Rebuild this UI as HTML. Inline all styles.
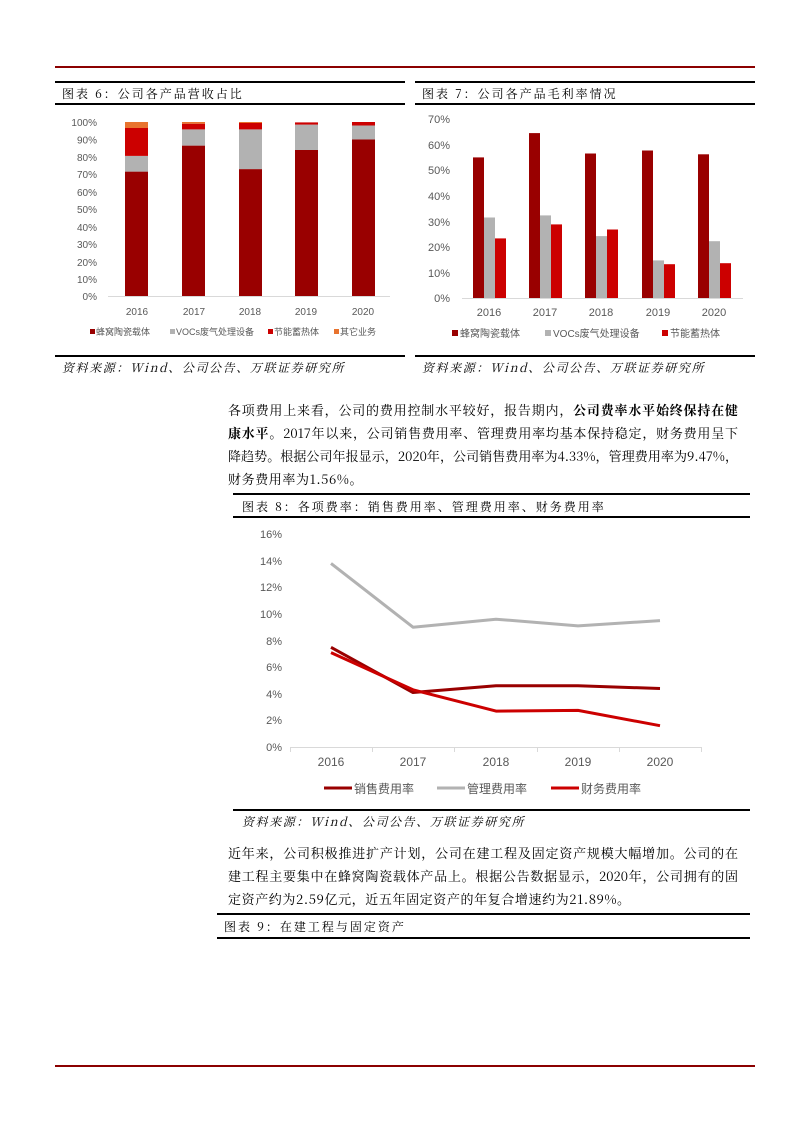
<!DOCTYPE html>
<html><head><meta charset="utf-8"><style>
body{margin:0;background:#fff;width:793px;height:1122px;position:relative;font-family:"Liberation Sans","Noto Sans CJK SC",sans-serif;color:#000;overflow:hidden}
.a{position:absolute}
.hl{position:absolute;height:2px;background:#000}
.t{position:absolute;font-size:12px;letter-spacing:2px;font-family:"Noto Serif CJK SC","Liberation Serif",serif;white-space:nowrap}
.s{position:absolute;font-size:12px;letter-spacing:1.6px;font-style:italic;font-family:"Noto Serif CJK SC","Liberation Serif",serif;white-space:nowrap}
.l{position:absolute;font-size:13px;line-height:23px;font-family:"Noto Serif CJK SC","Liberation Serif",serif;width:510px;text-align:justify;text-align-last:justify;white-space:nowrap}
.l.last{text-align-last:left;letter-spacing:0.6px}
svg text{font-family:"Liberation Sans","Noto Sans CJK SC",sans-serif;fill:#595959}
</style></head><body>
<div class="a" style="left:55px;top:66px;width:700px;height:2px;background:#8b0000"></div>
<div class="a" style="left:55px;top:1065px;width:700px;height:2px;background:#8b0000"></div>

<div class="hl" style="left:55px;top:81px;width:350px"></div>
<div class="t" style="left:62px;top:85px">图表 6：公司各产品营收占比</div>
<div class="hl" style="left:55px;top:103px;width:350px"></div>
<div class="hl" style="left:55px;top:355px;width:350px"></div>
<div class="s" style="left:62px;top:359px">资料来源：Wind、公司公告、万联证券研究所</div>

<div class="hl" style="left:415px;top:81px;width:340px"></div>
<div class="t" style="left:422px;top:85px">图表 7：公司各产品毛利率情况</div>
<div class="hl" style="left:415px;top:103px;width:340px"></div>
<div class="hl" style="left:415px;top:355px;width:340px"></div>
<div class="s" style="left:422px;top:359px">资料来源：Wind、公司公告、万联证券研究所</div>

<svg class="a" style="left:0;top:0" width="793" height="1122">
<g font-size="10" text-anchor="end">
<text x="97" y="126">100%</text><text x="97" y="143.5">90%</text><text x="97" y="161">80%</text><text x="97" y="178">70%</text><text x="97" y="196">60%</text><text x="97" y="213">50%</text><text x="97" y="231">40%</text><text x="97" y="248">30%</text><text x="97" y="266">20%</text><text x="97" y="283">10%</text><text x="97" y="300">0%</text>
</g>
<line x1="108" y1="296.5" x2="390" y2="296.5" stroke="#d9d9d9"/>
<g>
<rect x="125" y="171.6" width="23" height="124.4" fill="#990000"/><rect x="125" y="155.9" width="23" height="15.7" fill="#b2b2b2"/><rect x="125" y="128" width="23" height="27.9" fill="#cc0000"/><rect x="125" y="122" width="23" height="6" fill="#e8732e"/>
<rect x="182" y="145.6" width="23" height="150.4" fill="#990000"/><rect x="182" y="129.4" width="23" height="16.2" fill="#b2b2b2"/><rect x="182" y="123.7" width="23" height="5.7" fill="#cc0000"/><rect x="182" y="122" width="23" height="1.7" fill="#e8732e"/>
<rect x="239" y="169.1" width="23" height="126.9" fill="#990000"/><rect x="239" y="129.4" width="23" height="39.7" fill="#b2b2b2"/><rect x="239" y="123" width="23" height="6.4" fill="#cc0000"/><rect x="239" y="122" width="23" height="1" fill="#e8732e"/>
<rect x="295" y="150" width="23" height="146" fill="#990000"/><rect x="295" y="124.6" width="23" height="25.4" fill="#b2b2b2"/><rect x="295" y="122.4" width="23" height="2.2" fill="#cc0000"/>
<rect x="352" y="139.5" width="23" height="156.5" fill="#990000"/><rect x="352" y="125.5" width="23" height="14" fill="#b2b2b2"/><rect x="352" y="122" width="23" height="3.5" fill="#cc0000"/>
</g>
<g font-size="10" text-anchor="middle"><text x="137" y="315">2016</text><text x="194" y="315">2017</text><text x="250" y="315">2018</text><text x="306" y="315">2019</text><text x="363" y="315">2020</text></g>
<g font-size="9">
<rect x="90" y="329" width="5" height="5" fill="#990000"/><text x="96" y="335">蜂窝陶瓷载体</text>
<rect x="170" y="329" width="5" height="5" fill="#b2b2b2"/><text x="176" y="335">VOCs废气处理设备</text>
<rect x="268" y="329" width="5" height="5" fill="#cc0000"/><text x="274" y="335">节能蓄热体</text>
<rect x="334" y="329" width="5" height="5" fill="#e8732e"/><text x="340" y="335">其它业务</text>
</g>
<g font-size="11" text-anchor="end">
<text x="450" y="123">70%</text><text x="450" y="149">60%</text><text x="450" y="174">50%</text><text x="450" y="200">40%</text><text x="450" y="226">30%</text><text x="450" y="251">20%</text><text x="450" y="277">10%</text><text x="450" y="302">0%</text>
</g>
<line x1="462" y1="298.5" x2="743" y2="298.5" stroke="#d9d9d9"/>
<g>
<rect x="473" y="157.4" width="11" height="140.6" fill="#990000"/><rect x="484" y="217.5" width="11" height="80.5" fill="#b2b2b2"/><rect x="495" y="238.4" width="11" height="59.6" fill="#cc0000"/>
<rect x="529" y="133.1" width="11" height="164.9" fill="#990000"/><rect x="540" y="215.4" width="11" height="82.6" fill="#b2b2b2"/><rect x="551" y="224.4" width="11" height="73.6" fill="#cc0000"/>
<rect x="585" y="153.5" width="11" height="144.5" fill="#990000"/><rect x="596" y="236.1" width="11" height="61.9" fill="#b2b2b2"/><rect x="607" y="229.5" width="11" height="68.5" fill="#cc0000"/>
<rect x="642" y="150.5" width="11" height="147.5" fill="#990000"/><rect x="653" y="260.4" width="11" height="37.6" fill="#b2b2b2"/><rect x="664" y="264.2" width="11" height="33.8" fill="#cc0000"/>
<rect x="698" y="154.3" width="11" height="143.7" fill="#990000"/><rect x="709" y="241.2" width="11" height="56.8" fill="#b2b2b2"/><rect x="720" y="263.2" width="11" height="34.8" fill="#cc0000"/>
</g>
<g font-size="11" text-anchor="middle"><text x="489" y="316">2016</text><text x="545" y="316">2017</text><text x="601" y="316">2018</text><text x="658" y="316">2019</text><text x="714" y="316">2020</text></g>
<g font-size="10">
<rect x="452" y="330" width="6" height="6" fill="#990000"/><text x="460" y="337">蜂窝陶瓷载体</text>
<rect x="545" y="330" width="6" height="6" fill="#b2b2b2"/><text x="553" y="337">VOCs废气处理设备</text>
<rect x="662" y="330" width="6" height="6" fill="#cc0000"/><text x="670" y="337">节能蓄热体</text>
</g>
<g font-size="11" text-anchor="end">
<text x="282" y="538">16%</text><text x="282" y="565">14%</text><text x="282" y="591">12%</text><text x="282" y="618">10%</text><text x="282" y="645">8%</text><text x="282" y="671">6%</text><text x="282" y="698">4%</text><text x="282" y="724">2%</text><text x="282" y="751">0%</text>
</g>
<line x1="290" y1="747.5" x2="701" y2="747.5" stroke="#d9d9d9"/>
<g stroke="#d9d9d9"><line x1="290.5" y1="747" x2="290.5" y2="752"/><line x1="372.5" y1="747" x2="372.5" y2="752"/><line x1="454.5" y1="747" x2="454.5" y2="752"/><line x1="537.5" y1="747" x2="537.5" y2="752"/><line x1="619.5" y1="747" x2="619.5" y2="752"/><line x1="701.5" y1="747" x2="701.5" y2="752"/></g>
<g fill="none" stroke-width="3" stroke-linejoin="round">
<polyline stroke="#b2b2b2" points="331,563.4 413,627.2 496,619.2 578,625.9 660,620.6"/>
<polyline stroke="#990000" points="331,647.3 413,692.5 496,685.8 578,685.8 660,688.5"/>
<polyline stroke="#cc0000" points="331,652.6 413,689.8 496,711.1 578,710.4 660,725.7"/>
</g>
<g font-size="12" text-anchor="middle"><text x="331" y="766">2016</text><text x="413" y="766">2017</text><text x="496" y="766">2018</text><text x="578" y="766">2019</text><text x="660" y="766">2020</text></g>
<g font-size="12">
<line x1="324" y1="788" x2="352" y2="788" stroke="#990000" stroke-width="3"/><text x="354" y="793">销售费用率</text>
<line x1="437" y1="788" x2="465" y2="788" stroke="#b2b2b2" stroke-width="3"/><text x="467" y="793">管理费用率</text>
<line x1="551" y1="788" x2="579" y2="788" stroke="#cc0000" stroke-width="3"/><text x="581" y="793">财务费用率</text>
</g>
</svg>

<div class="l" style="left:228px;top:398px">各项费用上来看，公司的费用控制水平较好，报告期内，<b>公司费率水平始终保持在健</b></div>
<div class="l" style="left:228px;top:421px"><b>康水平</b>。2017年以来，公司销售费用率、管理费用率均基本保持稳定，财务费用呈下</div>
<div class="l" style="left:228px;top:444px">降趋势。根据公司年报显示，2020年，公司销售费用率为4.33%，管理费用率为9.47%，</div>
<div class="l last" style="left:228px;top:467px">财务费用率为1.56%。</div>

<div class="hl" style="left:233px;top:493px;width:517px"></div>
<div class="t" style="left:242px;top:498px">图表 8：各项费率：销售费用率、管理费用率、财务费用率</div>
<div class="hl" style="left:233px;top:516px;width:517px"></div>
<div class="hl" style="left:233px;top:809px;width:517px"></div>
<div class="s" style="left:242px;top:813px">资料来源：Wind、公司公告、万联证券研究所</div>

<div class="l" style="left:228px;top:841px">近年来，公司积极推进扩产计划，公司在建工程及固定资产规模大幅增加。公司的在</div>
<div class="l" style="left:228px;top:864px">建工程主要集中在蜂窝陶瓷载体产品上。根据公告数据显示，2020年，公司拥有的固</div>
<div class="l last" style="left:228px;top:887px">定资产约为2.59亿元，近五年固定资产的年复合增速约为21.89%。</div>

<div class="hl" style="left:217px;top:913px;width:533px"></div>
<div class="t" style="left:224px;top:918px">图表 9：在建工程与固定资产</div>
<div class="hl" style="left:217px;top:937px;width:533px"></div>
</body></html>
